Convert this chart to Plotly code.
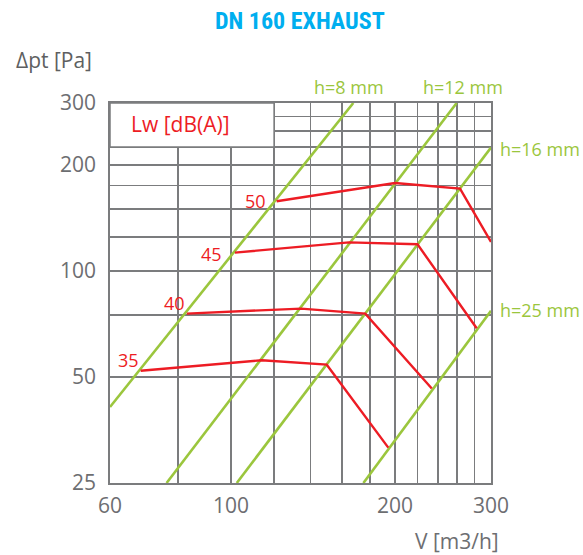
import numpy as np
import plotly.graph_objects as go

# ---------------- data ----------------
# damper position lines (h = opening), airflow V [m3/h] vs pressure drop [Pa]
h_labels = ["h=8 mm", "h=12 mm", "h=16 mm", "h=25 mm"]
h8_flow = [60, 167.7]
h8_dp = [41.1, 300]
h12_flow = [76.2, 259.5]
h12_dp = [25, 300]
h16_flow = [102.5, 300]
h16_dp = [25, 224.1]
h25_flow = [175.0, 300]
h25_dp = [25, 77.1]

# sound power level curves Lw [dB(A)]
lw_levels = ["50", "45", "40", "35"]
lw50_flow = [121.3, 200.0, 263.2, 300]
lw50_dp = [157.8, 177.8, 171.4, 120.9]
lw45_flow = [101.7, 164.6, 219.9, 282.4]
lw45_dp = [112.8, 120.6, 119.1, 68.8]
lw40_flow = [83.0, 134.5, 176.4, 233.6]
lw40_dp = [75.7, 78.2, 75.7, 46.4]
lw35_flow = [68.3, 113.9, 149.9, 194.4]
lw35_dp = [52.1, 55.8, 54.2, 31.5]

# axes grid / ticks
x_grid = [60, 80, 100, 120, 140, 160, 180, 200, 220, 240, 260, 280, 300]
x_labels = ["60", "", "100", "", "", "", "", "200", "", "", "", "", "300"]
y_grid = [25, 50, 75, 100, 125, 150, 175, 200, 225, 250, 275, 300]
y_labels = ["25", "50", "", "100", "", "", "", "200", "", "", "", "300"]

# ---------------- styles ----------------
GREEN = "#9BC63D"
RED = "#ED1C24"
GRID = "#7B7C7E"
TXT = "#6D6E71"
FONT = "Open Sans, Noto Sans, DejaVu Sans, sans-serif"

fig = go.Figure()

for fx, fy in [(h8_flow, h8_dp), (h12_flow, h12_dp), (h16_flow, h16_dp), (h25_flow, h25_dp)]:
    fig.add_trace(go.Scatter(x=fx, y=fy, mode="lines",
                             line=dict(color=GREEN, width=2.6),
                             hoverinfo="skip", showlegend=False, cliponaxis=True))

lw_curves = [(lw50_flow, lw50_dp), (lw45_flow, lw45_dp), (lw40_flow, lw40_dp), (lw35_flow, lw35_dp)]
for fx, fy in lw_curves:
    fig.add_trace(go.Scatter(x=fx, y=fy, mode="lines",
                             line=dict(color=RED, width=2.4),
                             hoverinfo="skip", showlegend=False, cliponaxis=False))

# white legend box in upper left (covers the grid)
fig.add_shape(type="rect", xref="x", yref="y",
              x0=x_grid[0], x1=x_grid[3], y0=y_grid[8], y1=y_grid[-1],
              fillcolor="white", line=dict(color=GRID, width=1.5), layer="between")

annotations = []
# Lw curve number labels, placed relative to each curve's first point
label_shifts = [(-9, 0), (-11, -1), (0, 11), (0, 11)]
for lvl, (fx, fy), (dx, dy) in zip(lw_levels, lw_curves, label_shifts):
    annotations.append(dict(x=np.log10(fx[0]), y=np.log10(fy[0]), xref="x", yref="y",
                            text=lvl, showarrow=False, xanchor="right", yanchor="middle",
                            xshift=dx, yshift=dy,
                            font=dict(family=FONT, size=18, color=RED)))

# damper labels
h_pos = [(0.627, 1.042), (0.926, 1.042), (1.128, 0.879), (1.128, 0.454)]
for t, (px, py) in zip(h_labels, h_pos):
    annotations.append(dict(x=px, y=py, xref="paper", yref="paper", text=t,
                            showarrow=False, xanchor="center", yanchor="middle",
                            font=dict(family=FONT, size=18, color=GREEN)))

annotations += [
    dict(x=0.184, y=0.945, xref="paper", yref="paper", text="Lw [dB(A)]",
         showarrow=False, xanchor="center", yanchor="middle",
         font=dict(family=FONT, size=21, color=RED)),
    dict(x=0.499, y=1.216, xref="paper", yref="paper", text="<b>DN 160 EXHAUST</b>",
         showarrow=False, xanchor="center", yanchor="middle",
         font=dict(family="Liberation Sans Narrow, Roboto Condensed, Roboto, sans-serif",
                   size=24, color="#00AEEF")),
    dict(x=-0.147, y=1.113, xref="paper", yref="paper", text="Δpt [Pa]",
         showarrow=False, xanchor="center", yanchor="middle",
         font=dict(family=FONT, size=21, color="#5E5F61")),
    dict(x=0.912, y=-0.153, xref="paper", yref="paper", text="V [m3/h]",
         showarrow=False, xanchor="center", yanchor="middle",
         font=dict(family=FONT, size=21, color=TXT)),
]

axis_common = dict(type="log", showgrid=True, gridcolor=GRID, gridwidth=1.5,
                   showline=True, linecolor=GRID, linewidth=1.8, mirror=True,
                   ticks="", zeroline=False, tickmode="array",
                   tickfont=dict(family=FONT, size=21, color=TXT))

fig.update_layout(
    width=583, height=555,
    margin=dict(l=110, r=92, t=103, b=72),
    paper_bgcolor="white", plot_bgcolor="white",
    xaxis=dict(range=[np.log10(60), np.log10(300)], tickvals=x_grid, ticktext=x_labels,
               ticklabelstandoff=3, fixedrange=True, **axis_common),
    yaxis=dict(range=[np.log10(25), np.log10(300)], tickvals=y_grid, ticktext=y_labels,
               ticklabelstandoff=8, fixedrange=True, **axis_common),
    annotations=annotations,
    showlegend=False,
    hovermode=False,
)

# remove the default page margin so the figure fills the window exactly
fig.write_html("out.html",
               config={"displayModeBar": False, "staticPlot": True},
               post_script="document.body.style.margin='0px';document.body.style.overflow='hidden';")
